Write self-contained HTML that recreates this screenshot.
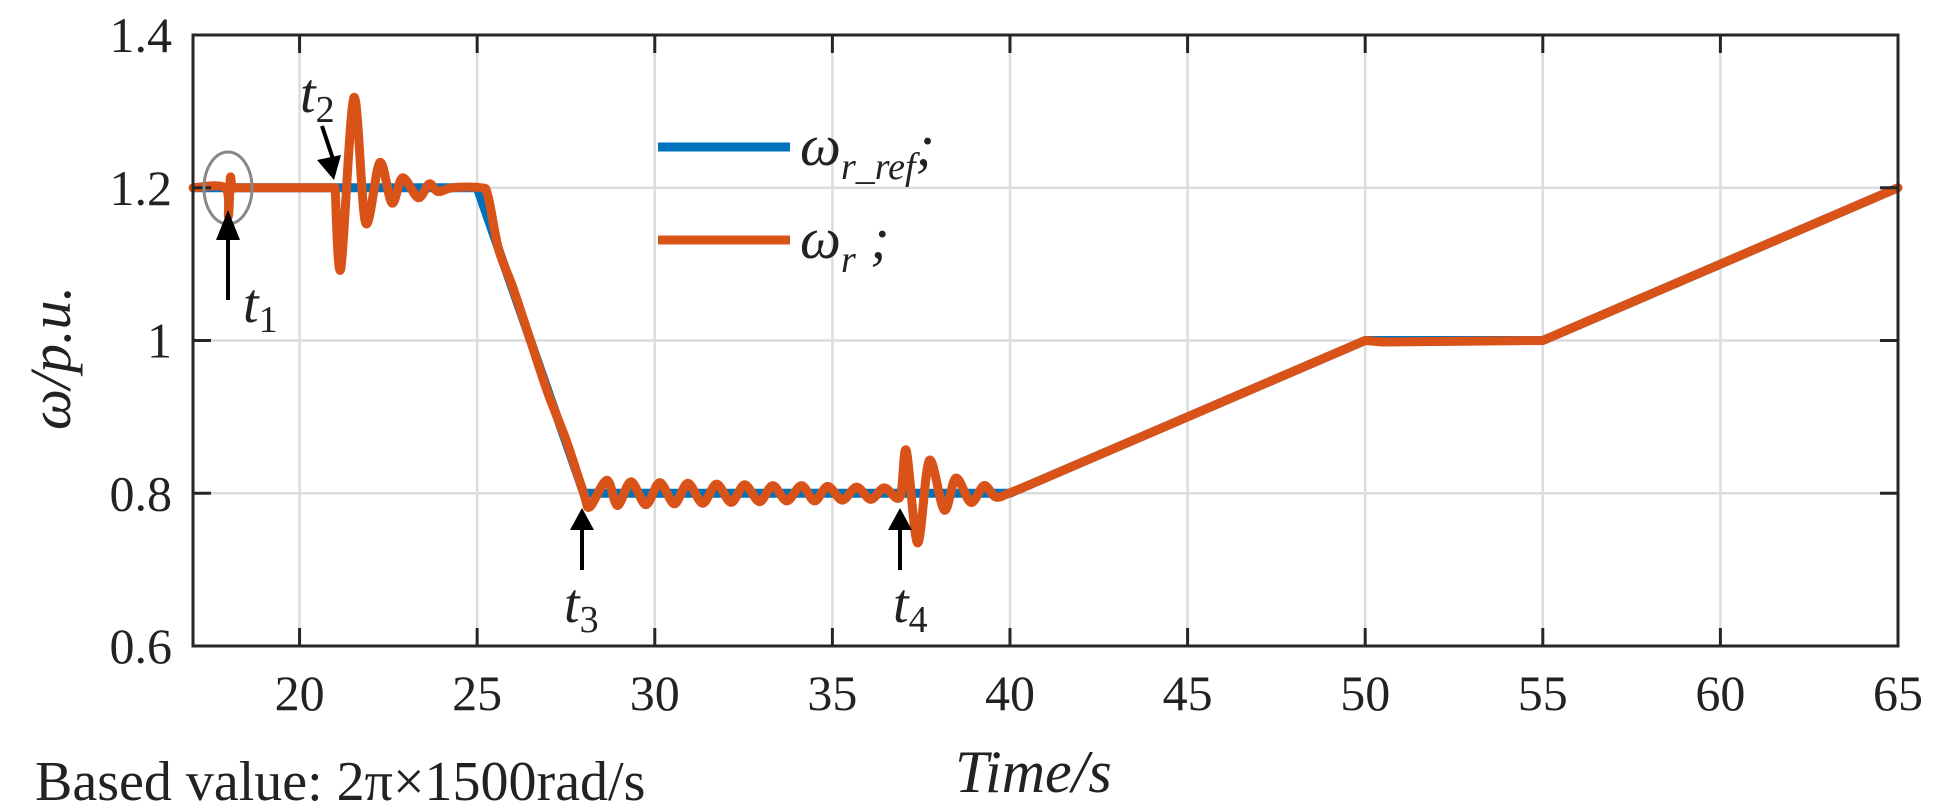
<!DOCTYPE html>
<html><head><meta charset="utf-8"><style>
html,body{margin:0;padding:0;background:#fff;}
svg{display:block;}
text{font-family:"Liberation Serif",serif;fill:#222;}
</style></head><body>
<svg id="chart" width="1936" height="812" viewBox="0 0 1936 812" xmlns="http://www.w3.org/2000/svg">
<g id="grid"></g>
<g id="series"></g>
<rect x="193" y="35" width="1705" height="611" fill="none" stroke="#262626" stroke-width="3"/>
<g id="ticks"></g>
<g>
<line x1="658" y1="147" x2="790" y2="147" stroke="#0072BD" stroke-width="9"/>
<text x="800" y="165" font-size="58" font-style="italic">ω<tspan font-size="38" dy="14">r_ref</tspan><tspan dy="-14">;</tspan></text>
<line x1="658" y1="240" x2="790" y2="240" stroke="#D95319" stroke-width="9"/>
<text x="800" y="258" font-size="58" font-style="italic">ω<tspan font-size="38" dy="14">r</tspan><tspan dy="-14"> ;</tspan></text>
</g>
<g>
<ellipse cx="228" cy="188" rx="24" ry="36" fill="none" stroke="#888" stroke-width="3"/>
<line x1="228" y1="300" x2="228" y2="235" stroke="#000" stroke-width="4"/>
<polygon points="216,240 240,240 228,210" fill="#000"/>
<text x="243" y="322" font-size="56" font-style="italic">t<tspan font-size="38" dy="10" font-style="normal">1</tspan></text>
<line x1="322" y1="126" x2="335" y2="165" stroke="#000" stroke-width="4"/>
<polygon points="317,160 341,155 334,180" fill="#000"/>
<text x="300" y="112" font-size="56" font-style="italic">t<tspan font-size="38" dy="10" font-style="normal">2</tspan></text>
<line x1="582" y1="570" x2="582" y2="525" stroke="#000" stroke-width="4"/>
<polygon points="570,530 594,530 582,508" fill="#000"/>
<text x="564" y="622" font-size="56" font-style="italic">t<tspan font-size="38" dy="10" font-style="normal">3</tspan></text>
<line x1="900" y1="570" x2="900" y2="525" stroke="#000" stroke-width="4"/>
<polygon points="888,530 912,530 900,508" fill="#000"/>
<text x="893" y="622" font-size="56" font-style="italic">t<tspan font-size="38" dy="10" font-style="normal">4</tspan></text>
</g>
<text x="955" y="792" font-size="60" font-style="italic">Time/s</text>
<text transform="translate(70,358) rotate(-90)" text-anchor="middle" font-size="58" font-style="italic">ω/p.u.</text>
<text x="35" y="800" font-size="56">Based value: 2π×1500rad/s</text>
</svg>
<script>
const xTicks=[20,25,30,35,40,45,50,55,60,65];
const yTicks=[0.6,0.8,1,1.2,1.4];
const yTickLabels=["0.6","0.8","1","1.2","1.4"];
const refT=[17,25,28,40,50,55,65];
const refW=[1.2,1.2,0.8,0.8,1.0,1.0,1.2];
const wrT=[17,17.9,18.0,18.05,18.1,18.2,21.0,21.16,21.53,21.86,22.26,22.6,22.9,23.34,23.65,23.9,24.3,25.1,25.3,25.6,26.0,26.5,27.0,27.5,28.0,28.17,28.65,28.95,29.33,29.75,30.14,30.55,30.93,31.35,31.74,32.15,32.53,32.95,33.32,33.72,34.13,34.5,34.87,35.28,35.68,36.08,36.46,36.9,37.08,37.4,37.73,38.15,38.48,38.9,39.27,39.6,39.97,40.5,45,50,50.5,55,65];
const wrW=[1.2,1.2,1.163,1.213,1.2,1.2,1.2,1.094,1.318,1.154,1.233,1.18,1.213,1.187,1.205,1.195,1.2,1.2,1.19,1.12,1.07,1.0,0.93,0.87,0.8,0.782,0.817,0.784,0.815,0.785,0.814,0.786,0.813,0.787,0.812,0.788,0.811,0.789,0.81,0.79,0.81,0.79,0.809,0.791,0.808,0.792,0.807,0.795,0.856,0.735,0.843,0.778,0.82,0.788,0.81,0.795,0.8,0.81,0.9,1.0,0.998,1.0,1.2];
const X0=193,X1=1898,Y0=646,Y1=35,XMIN=17,XMAX=65,YMIN=0.6,YMAX=1.4;
function sx(t){return X0+(t-XMIN)/(XMAX-XMIN)*(X1-X0);}
function sy(v){return Y0-(v-YMIN)/(YMAX-YMIN)*(Y0-Y1);}
const NS="http://www.w3.org/2000/svg";
const grid=document.getElementById('grid'),ticks=document.getElementById('ticks'),series=document.getElementById('series');
function mk(tag,attrs,parent){const e=document.createElementNS(NS,tag);for(const k in attrs)e.setAttribute(k,attrs[k]);parent.appendChild(e);return e;}
xTicks.forEach(t=>{
  const g=mk('line',{x1:sx(t),x2:sx(t),y1:Y1,y2:Y0,stroke:'#dcdcdc','stroke-width':2.5},grid);
  
  
  const a=mk('line',{x1:sx(t),x2:sx(t),y1:Y0,y2:Y0-18,stroke:'#262626','stroke-width':3},ticks);
  
  
  const b=mk('line',{x1:sx(t),x2:sx(t),y1:Y1,y2:Y1+18,stroke:'#262626','stroke-width':3},ticks);
  
  
  const l=mk('text',{x:sx(t),y:710,'text-anchor':'middle','font-size':50},ticks);
  l.textContent=String(t);
  
  
});
yTicks.forEach((v,i)=>{
  const g=mk('line',{x1:X0,x2:X1,y1:sy(v),y2:sy(v),stroke:'#dcdcdc','stroke-width':2.5},grid);
  
  
  const a=mk('line',{x1:X0,x2:X0+18,y1:sy(v),y2:sy(v),stroke:'#262626','stroke-width':3},ticks);
  
  
  const b=mk('line',{x1:X1,x2:X1-18,y1:sy(v),y2:sy(v),stroke:'#262626','stroke-width':3},ticks);
  
  
  const l=mk('text',{x:172,y:sy(v)+17,'text-anchor':'end','font-size':50},ticks);
  l.textContent=yTickLabels[i];
  
  
});
function path(T,W){return T.map((t,i)=>(i?'L':'M')+sx(t).toFixed(1)+','+sy(W[i]).toFixed(1)).join(' ');}
function smooth(T,W){
  const P=T.map((t,i)=>[sx(t),sy(W[i])]);
  let d='M'+P[0][0].toFixed(1)+','+P[0][1].toFixed(1);
  for(let i=0;i<P.length-1;i++){
    const p1=P[i],p2=P[i+1];
    if(p2[0]-p1[0]>45){d+=' L'+p2[0].toFixed(1)+','+p2[1].toFixed(1);continue;}
    const p0=(i>0&&p1[0]-P[i-1][0]<=45)?P[i-1]:p1;
    const p3=(i+2<P.length&&P[i+2][0]-p2[0]<=45)?P[i+2]:p2;
    const k=0.16;
    const c1=[p1[0]+(p2[0]-p0[0])*k,p1[1]+(p2[1]-p0[1])*k];
    const c2=[p2[0]-(p3[0]-p1[0])*k,p2[1]-(p3[1]-p1[1])*k];
    d+=' C'+c1[0].toFixed(1)+','+c1[1].toFixed(1)+' '+c2[0].toFixed(1)+','+c2[1].toFixed(1)+' '+p2[0].toFixed(1)+','+p2[1].toFixed(1);
  }
  return d;
}
const pr=mk('path',{d:path(refT,refW),fill:'none',stroke:'#0072BD','stroke-width':9,'stroke-linejoin':'round'},series);


const pw=mk('path',{d:smooth(wrT,wrW),fill:'none',stroke:'#D95319','stroke-width':9,'stroke-linejoin':'round','stroke-linecap':'round'},series);


</script>
</body></html>
